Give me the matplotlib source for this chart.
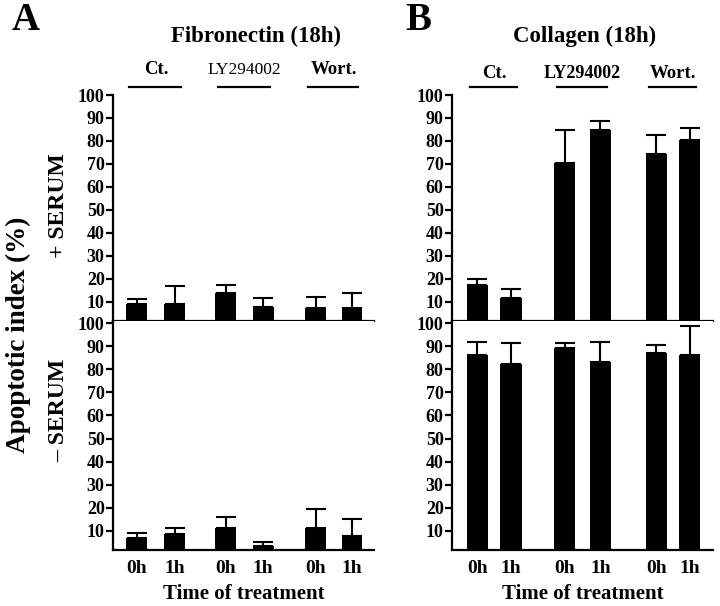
import numpy as np
import matplotlib
matplotlib.use("Agg")
import matplotlib.pyplot as plt
import matplotlib.transforms as mtransforms

plt.rcParams['font.family'] = ['Liberation Serif', 'DejaVu Serif']
plt.rcParams['font.weight'] = 'bold'

# data (apoptotic index %, upper error)
groups = ["Ct.", "LY294002", "Wort."]
times = ["0h", "1h", "0h", "1h", "0h", "1h"]

fn_serum = [9.3, 9.3, 14.0, 8.0, 7.2, 7.2]
fn_serum_err = [2.1, 7.7, 3.4, 3.9, 4.8, 6.6]
fn_noserum = [7.1, 8.7, 11.1, 3.5, 11.1, 7.9]
fn_noserum_err = [2.1, 2.4, 4.9, 1.8, 8.4, 7.1]

col_serum = [17.5, 11.6, 70.4, 84.9, 74.4, 80.3]
col_serum_err = [2.4, 4.2, 14.5, 3.8, 8.2, 5.2]
col_noserum = [86.2, 82.3, 89.0, 83.0, 87.2, 86.2]
col_noserum_err = [5.5, 9.1, 2.4, 8.7, 3.4, 12.7]

# bar layout
pos_a = np.array([0, 1, 2.34, 3.32, 4.71, 5.66])
pos_b = np.array([0, 1, 2.6, 3.67, 5.34, 6.33])

fig = plt.figure(figsize=(7.2, 6.06), dpi=100)

W = 720.0
H = 606.0


def make_ax(x0, x1, y0, y1):
    return fig.add_axes([x0 / W, 1 - y1 / H, (x1 - x0) / W, (y1 - y0) / H])


def style(ax, top):
    for s in ['top', 'right']:
        ax.spines[s].set_visible(False)
    ax.spines['left'].set_linewidth(1.6)
    ax.spines['bottom'].set_linewidth(1.6)
    ax.set_yticks(range(10, 101, 10))
    ax.tick_params(axis='y', direction='out', length=5, width=1.6,
                   labelsize=13, pad=1)
    ax.tick_params(axis='x', length=0, labelsize=14, pad=7)
    if top:
        ax.set_xticks([])


def bars(ax, pos, vals, errs, width):
    ax.bar(pos, vals, width=width, color='black', zorder=2)
    ax.errorbar(pos, vals, yerr=[np.zeros(len(vals)), errs], fmt='none',
                ecolor='black', elinewidth=1.5, capsize=7, capthick=1.5,
                zorder=1)


panels = [
    # x0, x1, positions, bar width, px per unit, xlim, values..., title, title x, LY weight/size, label y
    (113, 374, pos_a, 0.55, 38.0, (-0.63, 6.24),
     fn_serum, fn_serum_err, fn_noserum, fn_noserum_err,
     "Fibronectin (18h)", 256, 'normal', 12.5, 70),
    (452, 713, pos_b, 0.64, 33.5, (-0.76, 7.03),
     col_serum, col_serum_err, col_noserum, col_noserum_err,
     "Collagen (18h)", 585, 'bold', 13, 74),
]

for (x0, x1, pos, bw, ppu, xlim, top_v, top_e, bot_v, bot_e, title, tx, lyw,
     lys, ly) in panels:
    ax_t = make_ax(x0, x1, 95, 321)
    ax_b = make_ax(x0, x1, 321, 550)
    for ax in (ax_t, ax_b):
        ax.set_xlim(*xlim)
    ax_t.set_ylim(1.7, 100)
    ax_b.set_ylim(1.7, 100.9)
    style(ax_t, True)
    style(ax_b, False)
    bars(ax_t, pos, top_v, top_e, bw)
    bars(ax_b, pos, bot_v, bot_e, bw)
    ax_b.set_xticks(pos)
    ax_b.set_xticklabels(times)
    ax_b.set_xlabel("Time of treatment", fontsize=15, fontweight='bold',
                    labelpad=5)

    # group labels with lines above the top panel
    trans = mtransforms.blended_transform_factory(ax_t.transData, fig.transFigure)
    for i, g in enumerate(groups):
        a, b = pos[2 * i], pos[2 * i + 1]
        ax_t.plot([a - 7.5 / ppu, b + 6.5 / ppu], [1 - 87 / H, 1 - 87 / H],
                  color='black', lw=1.6, transform=trans, clip_on=False)
        ax_t.text((a + b) / 2, 1 - ly / H, g, transform=trans, ha='center',
                  va='center', fontsize=(lys if i == 1 else 13.5),
                  fontweight=(lyw if i == 1 else 'bold'))

    fig.text(tx / W, 1 - 36 / H, title, ha='center', va='center',
             fontsize=16.5, fontweight='bold')

fig.text(26 / W, 1 - 20 / H, "A", ha='center', va='center', fontsize=28,
         fontweight='bold')
fig.text(418 / W, 1 - 20 / H, "B", ha='center', va='center', fontsize=28,
         fontweight='bold')

fig.text(18 / W, 1 - 335 / H, "Apoptotic index (%)", rotation=90, ha='center',
         va='center', fontsize=19.5, fontweight='bold')
fig.text(59 / W, 1 - 206 / H, "+ SERUM", rotation=90, ha='center',
         va='center', fontsize=17, fontweight='bold')
fig.text(59 / W, 1 - 410 / H, "\u2013 SERUM", rotation=90, ha='center',
         va='center', fontsize=17, fontweight='bold')

fig.savefig("out.png", dpi=100)
